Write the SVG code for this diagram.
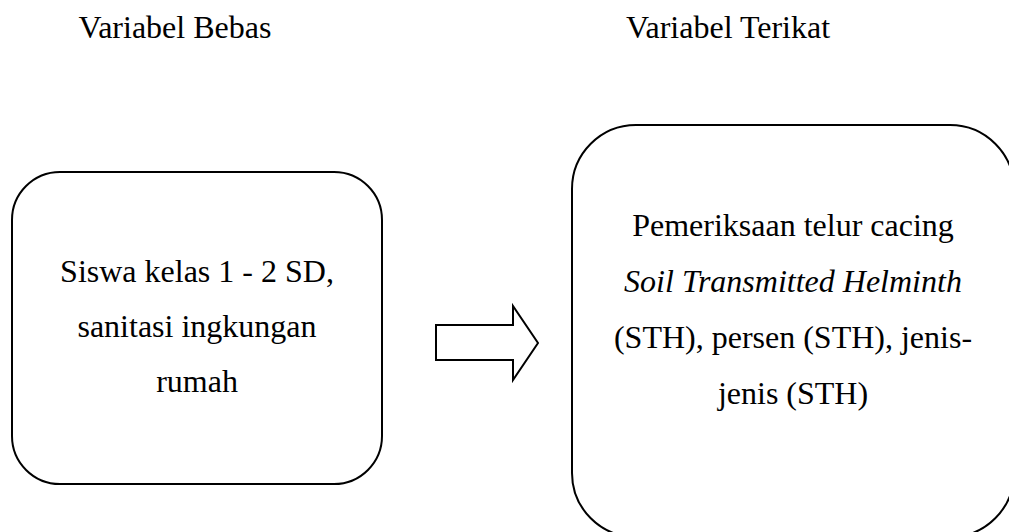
<svg xmlns="http://www.w3.org/2000/svg" width="1009" height="532" viewBox="0 0 1009 532">
<style>
text{font-family:"Liberation Serif","Times New Roman",serif;font-size:32px;fill:#000;text-anchor:middle}
.box{fill:#fff;stroke:#000;stroke-width:2}
.it{font-style:italic}
</style>
<rect width="1009" height="532" fill="#fff"/>
<g id="headings">
<text x="175" y="38">Variabel Bebas</text>
<text x="728" y="38">Variabel Terikat</text>
</g>
<g id="node-bebas">
<rect class="box" x="12" y="172" width="370" height="312" rx="48" ry="48"/>
<text x="197" y="282">Siswa kelas 1 - 2 SD,</text>
<text x="197" y="337">sanitasi ingkungan</text>
<text x="197" y="392">rumah</text>
</g>
<g id="node-terikat">
<rect class="box" x="572" y="125" width="442" height="412" rx="64" ry="64"/>
<text x="793" y="236">Pemeriksaan telur cacing</text>
<text x="793" y="292" class="it">Soil Transmitted Helminth</text>
<text x="793" y="348">(STH), persen (STH), jenis-</text>
<text x="793" y="404">jenis (STH)</text>
</g>
<g id="connectors">
<path class="box" d="M436,325 H513 V306 L538,343 L513,380 V360 H436 Z"/>
</g>
</svg>
